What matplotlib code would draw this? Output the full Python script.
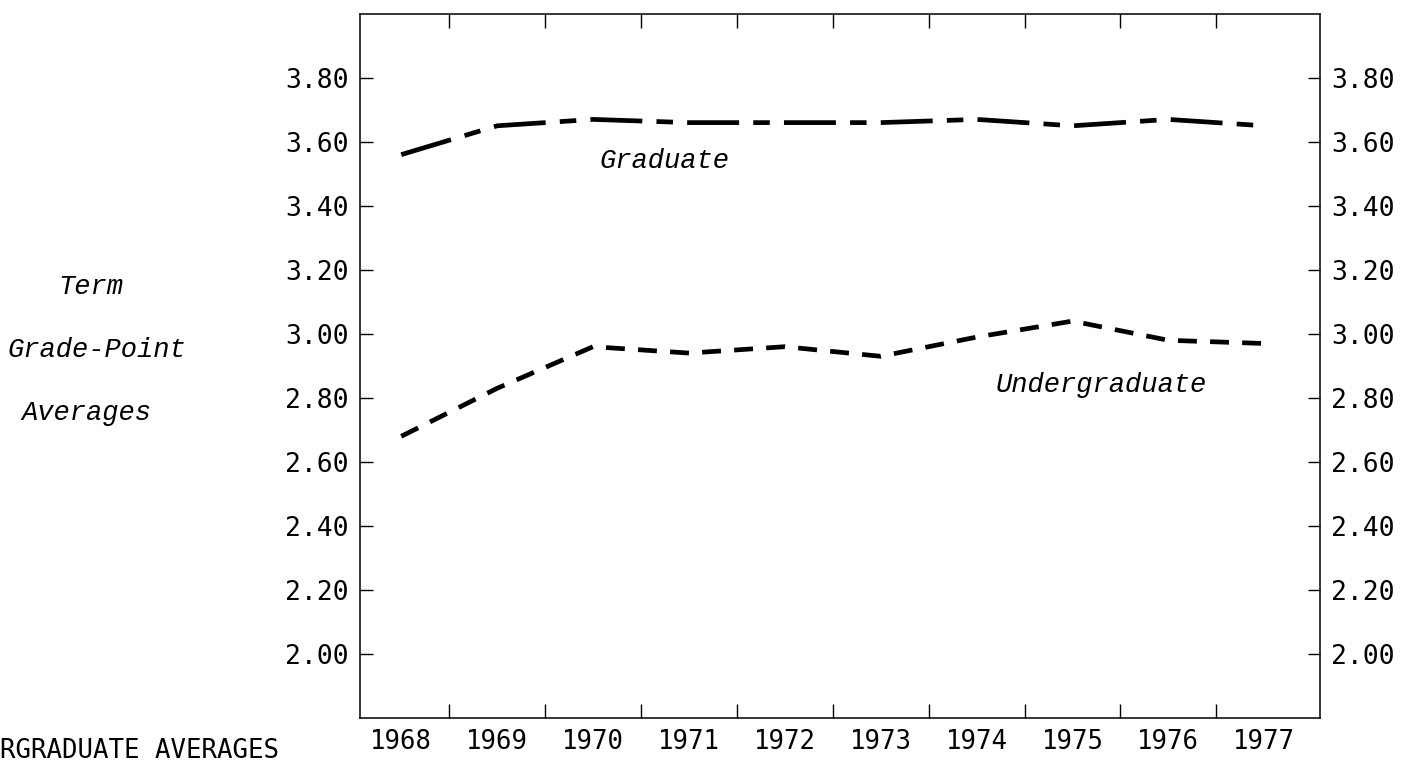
import matplotlib
matplotlib.use("Agg")
import matplotlib.pyplot as plt
from matplotlib.ticker import FixedLocator

# term grade-point averages
years = [1968, 1969, 1970, 1971, 1972, 1973, 1974, 1975, 1976, 1977]
graduate = [3.56, 3.65, 3.67, 3.66, 3.66, 3.66, 3.67, 3.65, 3.67, 3.65]
undergraduate = [2.68, 2.83, 2.96, 2.94, 2.96, 2.93, 2.99, 3.04, 2.98, 2.97]
gpa_ticks = [2.00, 2.20, 2.40, 2.60, 2.80, 3.00, 3.20, 3.40, 3.60, 3.80]

mono = "DejaVu Sans Mono"
typewriter_italic = dict(family="Liberation Mono", style="italic", fontsize=19.5)

fig = plt.figure(figsize=(14.19, 7.65), dpi=100)
ax = fig.add_axes([0.2537, 0.0614, 0.6765, 0.9206])

g_line, = ax.plot(years, graduate, color="black", linewidth=3.4)
g_line.set_dashes([11, 3, 3.5, 3])
u_line, = ax.plot(years, undergraduate, color="black", linewidth=3.4)
u_line.set_dashes([4, 2.8])

ax.set_xlim(1967.57, 1977.58)
ax.set_ylim(1.80, 4.0)

# y axis: labels on both sides, ticks pointing into the box
ax.set_yticks(gpa_ticks)
ax.set_yticklabels([f"{v:.2f}" for v in gpa_ticks], fontfamily=mono, fontsize=19)
ax.tick_params(axis="y", which="major", direction="in", length=9, width=1.0,
               left=True, right=True, labelleft=True, labelright=True, pad=8)
for t in ax.yaxis.get_major_ticks():
    t.label2.set_fontfamily(mono)
    t.label2.set_fontsize(19)

# x axis: year labels with no marks, small marks between years
ax.set_xticks(years)
ax.set_xticklabels([str(y) for y in years], fontfamily=mono, fontsize=18.5)
ax.tick_params(axis="x", which="major", length=0, pad=8)
ax.xaxis.set_minor_locator(FixedLocator([y + 0.5 for y in years[:-1]]))
ax.tick_params(axis="x", which="minor", direction="in", length=10, width=1.0,
               bottom=True, top=True)

for side in ax.spines.values():
    side.set_linewidth(1.1)

ax.text(1970.74, 3.54, "Graduate", ha="center", va="center", **typewriter_italic)
ax.text(1975.3, 2.84, "Undergraduate", ha="center", va="center", **typewriter_italic)

# axis title on the far left
fig.text(0.064, 1 - 287 / 765, "Term", ha="center", va="center", **typewriter_italic)
fig.text(0.068, 1 - 350 / 765, "Grade-Point", ha="center", va="center", **typewriter_italic)
fig.text(0.061, 1 - 413 / 765, "Averages", ha="center", va="center", **typewriter_italic)

# caption at the bottom edge of the scan
fig.text(0.0, 1 / 765, "RGRADUATE AVERAGES", ha="left", va="bottom",
         fontfamily=mono, fontsize=18.5)

fig.savefig("out.png", dpi=100)
